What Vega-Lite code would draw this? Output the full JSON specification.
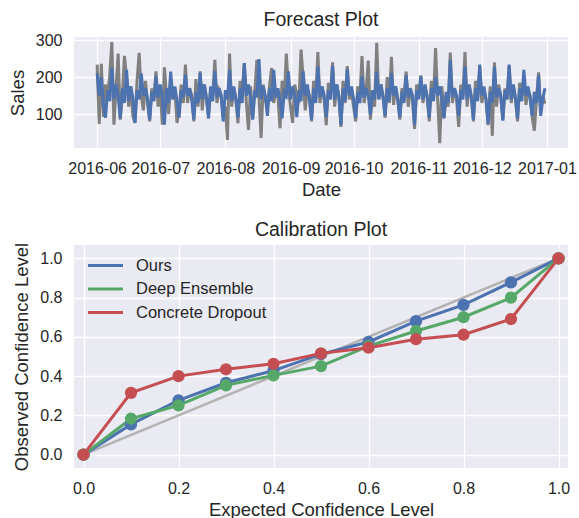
{
  "$schema": "https://vega.github.io/schema/vega-lite/v6.json",
  "background": "white",
  "padding": {"left": 8, "top": 9, "right": 5, "bottom": 2},
  "config": {
    "font": "Liberation Sans",
    "view": {"fill": "#EAEAF2", "stroke": null},
    "axis": {"domain": false, "ticks": false, "grid": true, "gridColor": "white", "gridWidth": 1.3, "labelFontSize": 16, "labelColor": "#262626", "titleFontSize": 18.5, "titleFontWeight": "normal", "titleColor": "#262626", "labelPadding": 12, "labelFlush": false},
    "axisX": {"titlePadding": 4},
    "axisY": {"titlePadding": 8},
    "title": {"fontSize": 19.5, "fontWeight": "normal", "color": "#262626", "offset": 2, "anchor": "middle"},
    "concat": {"spacing": 20}
  },
  "datasets": {
    "sales": [
      {"date":"2016-06-01","actual":234,"forecast":211},{"date":"2016-06-02","actual":73,"forecast":150},{"date":"2016-06-03","actual":236,"forecast":200},{"date":"2016-06-04","actual":92,"forecast":125},{"date":"2016-06-05","actual":180,"forecast":90},{"date":"2016-06-06","actual":150,"forecast":165},{"date":"2016-06-07","actual":205,"forecast":135},{"date":"2016-06-08","actual":295,"forecast":225},{"date":"2016-06-09","actual":71,"forecast":140},{"date":"2016-06-10","actual":170,"forecast":180},
      {"date":"2016-06-11","actual":264,"forecast":150},{"date":"2016-06-12","actual":85,"forecast":88},{"date":"2016-06-13","actual":150,"forecast":170},{"date":"2016-06-14","actual":258,"forecast":130},{"date":"2016-06-15","actual":200,"forecast":220},{"date":"2016-06-16","actual":120,"forecast":135},{"date":"2016-06-17","actual":175,"forecast":175},{"date":"2016-06-18","actual":95,"forecast":145},{"date":"2016-06-19","actual":76,"forecast":76},{"date":"2016-06-20","actual":190,"forecast":165},
      {"date":"2016-06-21","actual":266,"forecast":140},{"date":"2016-06-22","actual":150,"forecast":210},{"date":"2016-06-23","actual":110,"forecast":150},{"date":"2016-06-24","actual":190,"forecast":170},{"date":"2016-06-25","actual":130,"forecast":140},{"date":"2016-06-26","actual":80,"forecast":85},{"date":"2016-06-27","actual":170,"forecast":160},{"date":"2016-06-28","actual":140,"forecast":135},{"date":"2016-06-29","actual":216,"forecast":202},{"date":"2016-06-30","actual":120,"forecast":145},
      {"date":"2016-07-01","actual":175,"forecast":180},{"date":"2016-07-02","actual":71,"forecast":150},{"date":"2016-07-03","actual":227,"forecast":71},{"date":"2016-07-04","actual":150,"forecast":170},{"date":"2016-07-05","actual":100,"forecast":130},{"date":"2016-07-06","actual":190,"forecast":215},{"date":"2016-07-07","actual":140,"forecast":140},{"date":"2016-07-08","actual":165,"forecast":175},{"date":"2016-07-09","actual":76,"forecast":135},{"date":"2016-07-10","actual":110,"forecast":90},
      {"date":"2016-07-11","actual":180,"forecast":165},{"date":"2016-07-12","actual":130,"forecast":145},{"date":"2016-07-13","actual":234,"forecast":207},{"date":"2016-07-14","actual":130,"forecast":150},{"date":"2016-07-15","actual":170,"forecast":170},{"date":"2016-07-16","actual":150,"forecast":140},{"date":"2016-07-17","actual":80,"forecast":85},{"date":"2016-07-18","actual":195,"forecast":160},{"date":"2016-07-19","actual":120,"forecast":130},{"date":"2016-07-20","actual":216,"forecast":212},
      {"date":"2016-07-21","actual":110,"forecast":140},{"date":"2016-07-22","actual":180,"forecast":180},{"date":"2016-07-23","actual":140,"forecast":145},{"date":"2016-07-24","actual":95,"forecast":88},{"date":"2016-07-25","actual":170,"forecast":175},{"date":"2016-07-26","actual":150,"forecast":135},{"date":"2016-07-27","actual":247,"forecast":216},{"date":"2016-07-28","actual":130,"forecast":145},{"date":"2016-07-29","actual":165,"forecast":170},{"date":"2016-07-30","actual":150,"forecast":150},
      {"date":"2016-07-31","actual":90,"forecast":80},
      {"date":"2016-08-01","actual":120,"forecast":165},{"date":"2016-08-02","actual":30,"forecast":140},{"date":"2016-08-03","actual":264,"forecast":220},{"date":"2016-08-04","actual":120,"forecast":135},{"date":"2016-08-05","actual":170,"forecast":175},{"date":"2016-08-06","actual":140,"forecast":140},{"date":"2016-08-07","actual":75,"forecast":90},{"date":"2016-08-08","actual":190,"forecast":170},{"date":"2016-08-09","actual":160,"forecast":130},{"date":"2016-08-10","actual":238,"forecast":238},
      {"date":"2016-08-11","actual":130,"forecast":150},{"date":"2016-08-12","actual":57,"forecast":180},{"date":"2016-08-13","actual":175,"forecast":145},{"date":"2016-08-14","actual":90,"forecast":85},{"date":"2016-08-15","actual":160,"forecast":165},{"date":"2016-08-16","actual":247,"forecast":145},{"date":"2016-08-17","actual":150,"forecast":249},{"date":"2016-08-18","actual":35,"forecast":140},{"date":"2016-08-19","actual":180,"forecast":175},{"date":"2016-08-20","actual":140,"forecast":150},
      {"date":"2016-08-21","actual":120,"forecast":95},{"date":"2016-08-22","actual":175,"forecast":170},{"date":"2016-08-23","actual":225,"forecast":135},{"date":"2016-08-24","actual":130,"forecast":220},{"date":"2016-08-25","actual":165,"forecast":145},{"date":"2016-08-26","actual":150,"forecast":170},{"date":"2016-08-27","actual":62,"forecast":140},{"date":"2016-08-28","actual":190,"forecast":88},{"date":"2016-08-29","actual":140,"forecast":160},{"date":"2016-08-30","actual":264,"forecast":150},
      {"date":"2016-08-31","actual":170,"forecast":216},
      {"date":"2016-09-01","actual":120,"forecast":140},{"date":"2016-09-02","actual":76,"forecast":175},{"date":"2016-09-03","actual":180,"forecast":150},{"date":"2016-09-04","actual":150,"forecast":92},{"date":"2016-09-05","actual":130,"forecast":165},{"date":"2016-09-06","actual":275,"forecast":135},{"date":"2016-09-07","actual":200,"forecast":216},{"date":"2016-09-08","actual":110,"forecast":150},{"date":"2016-09-09","actual":170,"forecast":180},{"date":"2016-09-10","actual":150,"forecast":140},
      {"date":"2016-09-11","actual":80,"forecast":85},{"date":"2016-09-12","actual":190,"forecast":170},{"date":"2016-09-13","actual":140,"forecast":130},{"date":"2016-09-14","actual":268,"forecast":229},{"date":"2016-09-15","actual":130,"forecast":145},{"date":"2016-09-16","actual":175,"forecast":175},{"date":"2016-09-17","actual":140,"forecast":150},{"date":"2016-09-18","actual":70,"forecast":92},{"date":"2016-09-19","actual":185,"forecast":165},{"date":"2016-09-20","actual":150,"forecast":140},
      {"date":"2016-09-21","actual":240,"forecast":231},{"date":"2016-09-22","actual":120,"forecast":140},{"date":"2016-09-23","actual":180,"forecast":180},{"date":"2016-09-24","actual":150,"forecast":145},{"date":"2016-09-25","actual":65,"forecast":71},{"date":"2016-09-26","actual":190,"forecast":170},{"date":"2016-09-27","actual":130,"forecast":135},{"date":"2016-09-28","actual":230,"forecast":222},{"date":"2016-09-29","actual":140,"forecast":150},{"date":"2016-09-30","actual":165,"forecast":175},
      {"date":"2016-10-01","actual":120,"forecast":140},{"date":"2016-10-02","actual":80,"forecast":89},{"date":"2016-10-03","actual":175,"forecast":160},{"date":"2016-10-04","actual":145,"forecast":130},{"date":"2016-10-05","actual":257,"forecast":202},{"date":"2016-10-06","actual":130,"forecast":145},{"date":"2016-10-07","actual":170,"forecast":170},{"date":"2016-10-08","actual":245,"forecast":150},{"date":"2016-10-09","actual":85,"forecast":98},{"date":"2016-10-10","actual":160,"forecast":165},
      {"date":"2016-10-11","actual":120,"forecast":140},{"date":"2016-10-12","actual":293,"forecast":215},{"date":"2016-10-13","actual":140,"forecast":140},{"date":"2016-10-14","actual":180,"forecast":180},{"date":"2016-10-15","actual":150,"forecast":145},{"date":"2016-10-16","actual":90,"forecast":95},{"date":"2016-10-17","actual":200,"forecast":170},{"date":"2016-10-18","actual":130,"forecast":135},{"date":"2016-10-19","actual":255,"forecast":212},{"date":"2016-10-20","actual":125,"forecast":150},
      {"date":"2016-10-21","actual":175,"forecast":175},{"date":"2016-10-22","actual":140,"forecast":140},{"date":"2016-10-23","actual":85,"forecast":92},{"date":"2016-10-24","actual":170,"forecast":160},{"date":"2016-10-25","actual":150,"forecast":130},{"date":"2016-10-26","actual":215,"forecast":205},{"date":"2016-10-27","actual":120,"forecast":145},{"date":"2016-10-28","actual":165,"forecast":170},{"date":"2016-10-29","actual":140,"forecast":150},{"date":"2016-10-30","actual":60,"forecast":71},
      {"date":"2016-10-31","actual":180,"forecast":165},
      {"date":"2016-11-01","actual":150,"forecast":140},{"date":"2016-11-02","actual":205,"forecast":202},{"date":"2016-11-03","actual":130,"forecast":140},{"date":"2016-11-04","actual":170,"forecast":180},{"date":"2016-11-05","actual":150,"forecast":145},{"date":"2016-11-06","actual":80,"forecast":90},{"date":"2016-11-07","actual":190,"forecast":170},{"date":"2016-11-08","actual":140,"forecast":135},{"date":"2016-11-09","actual":279,"forecast":200},{"date":"2016-11-10","actual":140,"forecast":150},
      {"date":"2016-11-11","actual":21,"forecast":175},{"date":"2016-11-12","actual":175,"forecast":140},{"date":"2016-11-13","actual":90,"forecast":88},{"date":"2016-11-14","actual":150,"forecast":160},{"date":"2016-11-15","actual":120,"forecast":130},{"date":"2016-11-16","actual":267,"forecast":246},{"date":"2016-11-17","actual":130,"forecast":145},{"date":"2016-11-18","actual":170,"forecast":170},{"date":"2016-11-19","actual":140,"forecast":150},{"date":"2016-11-20","actual":65,"forecast":95},
      {"date":"2016-11-21","actual":180,"forecast":165},{"date":"2016-11-22","actual":150,"forecast":140},{"date":"2016-11-23","actual":268,"forecast":229},{"date":"2016-11-24","actual":120,"forecast":140},{"date":"2016-11-25","actual":175,"forecast":180},{"date":"2016-11-26","actual":150,"forecast":145},{"date":"2016-11-27","actual":80,"forecast":85},{"date":"2016-11-28","actual":190,"forecast":170},{"date":"2016-11-29","actual":140,"forecast":135},{"date":"2016-11-30","actual":225,"forecast":234},
      {"date":"2016-12-01","actual":130,"forecast":150},{"date":"2016-12-02","actual":165,"forecast":175},{"date":"2016-12-03","actual":140,"forecast":140},{"date":"2016-12-04","actual":70,"forecast":74},{"date":"2016-12-05","actual":175,"forecast":160},{"date":"2016-12-06","actual":41,"forecast":130},{"date":"2016-12-07","actual":240,"forecast":228},{"date":"2016-12-08","actual":120,"forecast":145},{"date":"2016-12-09","actual":180,"forecast":170},{"date":"2016-12-10","actual":150,"forecast":150},
      {"date":"2016-12-11","actual":85,"forecast":82},{"date":"2016-12-12","actual":170,"forecast":165},{"date":"2016-12-13","actual":140,"forecast":140},{"date":"2016-12-14","actual":230,"forecast":234},{"date":"2016-12-15","actual":130,"forecast":140},{"date":"2016-12-16","actual":175,"forecast":180},{"date":"2016-12-17","actual":140,"forecast":145},{"date":"2016-12-18","actual":80,"forecast":88},{"date":"2016-12-19","actual":185,"forecast":170},{"date":"2016-12-20","actual":150,"forecast":135},
      {"date":"2016-12-21","actual":200,"forecast":220},{"date":"2016-12-22","actual":125,"forecast":150},{"date":"2016-12-23","actual":165,"forecast":175},{"date":"2016-12-24","actual":150,"forecast":140},{"date":"2016-12-25","actual":90,"forecast":95},{"date":"2016-12-26","actual":55,"forecast":160},{"date":"2016-12-27","actual":140,"forecast":130},{"date":"2016-12-28","actual":213,"forecast":205},{"date":"2016-12-29","actual":110,"forecast":95},{"date":"2016-12-30","actual":150,"forecast":140},
      {"date":"2016-12-31","actual":128,"forecast":170}
    ],
    "diag": [{"x": 0, "y": 0}, {"x": 1, "y": 1}],
    "calib": [
      {"expected":0.0,"observed":0.0,"method":"Ours"},{"expected":0.1,"observed":0.154,"method":"Ours"},{"expected":0.2,"observed":0.277,"method":"Ours"},{"expected":0.3,"observed":0.366,"method":"Ours"},{"expected":0.4,"observed":0.428,"method":"Ours"},{"expected":0.5,"observed":0.512,"method":"Ours"},{"expected":0.6,"observed":0.574,"method":"Ours"},{"expected":0.7,"observed":0.68,"method":"Ours"},{"expected":0.8,"observed":0.763,"method":"Ours"},{"expected":0.9,"observed":0.878,"method":"Ours"},{"expected":1.0,"observed":1.0,"method":"Ours"},
      {"expected":0.0,"observed":0.0,"method":"Deep Ensemble"},{"expected":0.1,"observed":0.183,"method":"Deep Ensemble"},{"expected":0.2,"observed":0.251,"method":"Deep Ensemble"},{"expected":0.3,"observed":0.353,"method":"Deep Ensemble"},{"expected":0.4,"observed":0.404,"method":"Deep Ensemble"},{"expected":0.5,"observed":0.451,"method":"Deep Ensemble"},{"expected":0.6,"observed":0.553,"method":"Deep Ensemble"},{"expected":0.7,"observed":0.63,"method":"Deep Ensemble"},{"expected":0.8,"observed":0.70,"method":"Deep Ensemble"},{"expected":0.9,"observed":0.80,"method":"Deep Ensemble"},{"expected":1.0,"observed":1.0,"method":"Deep Ensemble"},
      {"expected":0.0,"observed":0.0,"method":"Concrete Dropout"},{"expected":0.1,"observed":0.315,"method":"Concrete Dropout"},{"expected":0.2,"observed":0.40,"method":"Concrete Dropout"},{"expected":0.3,"observed":0.435,"method":"Concrete Dropout"},{"expected":0.4,"observed":0.463,"method":"Concrete Dropout"},{"expected":0.5,"observed":0.516,"method":"Concrete Dropout"},{"expected":0.6,"observed":0.545,"method":"Concrete Dropout"},{"expected":0.7,"observed":0.588,"method":"Concrete Dropout"},{"expected":0.8,"observed":0.611,"method":"Concrete Dropout"},{"expected":0.9,"observed":0.691,"method":"Concrete Dropout"},{"expected":1.0,"observed":1.0,"method":"Concrete Dropout"}
    ]
  },
  "vconcat": [
    {
      "title": "Forecast Plot",
      "width": 494,
      "height": 111,
      "data": {"name": "sales"},
      "encoding": {
        "x": {
          "field": "date", "type": "temporal",
          "scale": {"type": "utc", "domain": [{"year": 2016, "month": 5, "date": 21, "utc": true}, {"year": 2017, "month": 1, "date": 11, "utc": true}]},
          "axis": {
            "title": "Date", "labelExpr": "utcFormat(datum.value, '%Y-%m')", "labelOverlap": false, "labelBound": false,
            "values": [
              {"year": 2016, "month": 6, "date": 1, "utc": true},
              {"year": 2016, "month": 7, "date": 1, "utc": true},
              {"year": 2016, "month": 8, "date": 1, "utc": true},
              {"year": 2016, "month": 9, "date": 1, "utc": true},
              {"year": 2016, "month": 10, "date": 1, "utc": true},
              {"year": 2016, "month": 11, "date": 1, "utc": true},
              {"year": 2016, "month": 12, "date": 1, "utc": true},
              {"year": 2017, "month": 1, "date": 1, "utc": true}
            ]
          }
        }
      },
      "layer": [
        {
          "mark": {"type": "line", "color": "#808080", "strokeWidth": 3},
          "encoding": {"y": {"field": "actual", "type": "quantitative", "scale": {"domain": [8, 309], "nice": false, "zero": false}, "axis": {"title": "Sales", "values": [100, 200, 300]}}}
        },
        {
          "mark": {"type": "line", "color": "#4C72B0", "strokeWidth": 3},
          "encoding": {"y": {"field": "forecast", "type": "quantitative"}}
        }
      ]
    },
    {
      "title": "Calibration Plot",
      "width": 494,
      "height": 223,
      "encoding": {
        "x": {"type": "quantitative", "scale": {"domain": [-0.02, 1.02], "nice": false, "zero": false}, "axis": {"title": "Expected Confidence Level", "values": [0, 0.2, 0.4, 0.6, 0.8, 1.0], "format": ".1f"}},
        "y": {"type": "quantitative", "scale": {"domain": [-0.068, 1.068], "nice": false, "zero": false}, "axis": {"title": "Observed Confidence Level", "values": [0, 0.2, 0.4, 0.6, 0.8, 1.0], "format": ".1f"}}
      },
      "layer": [
        {
          "data": {"name": "diag"},
          "mark": {"type": "line", "color": "#b3b3b3", "strokeWidth": 2.5},
          "encoding": {"x": {"field": "x"}, "y": {"field": "y"}}
        },
        {
          "data": {"name": "calib"},
          "mark": {"type": "line", "strokeWidth": 3, "point": {"size": 150, "filled": true, "opacity": 1}},
          "encoding": {
            "x": {"field": "expected"},
            "y": {"field": "observed"},
            "color": {
              "field": "method", "type": "nominal",
              "scale": {"domain": ["Ours", "Deep Ensemble", "Concrete Dropout"], "range": ["#4C72B0", "#55A868", "#C44E52"]},
              "legend": {"title": null, "orient": "none", "legendX": 18, "legendY": 215, "symbolType": "M-1.5,0H1.5", "symbolSize": 544, "symbolStrokeWidth": 3, "symbolFillColor": "transparent", "labelFontSize": 16.5, "labelColor": "#262626", "labelOffset": 17, "rowPadding": 1.5}
            }
          }
        }
      ]
    }
  ]
}
